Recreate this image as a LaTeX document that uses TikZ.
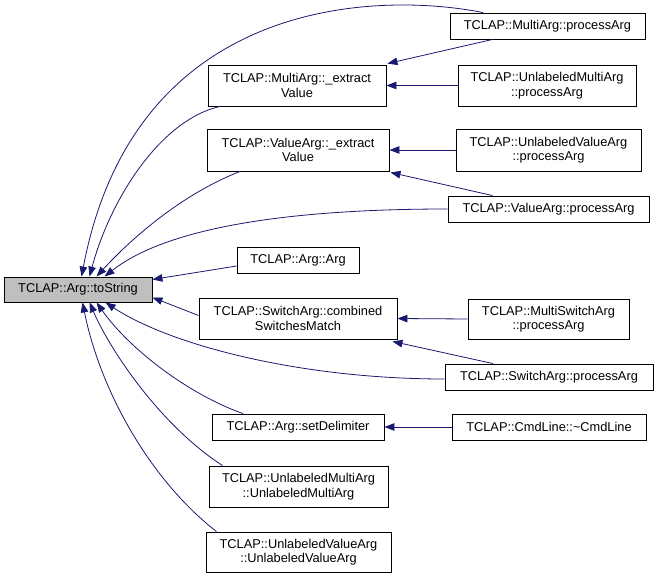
\documentclass[tikz,border=0pt]{standalone}
\usepackage{fontspec}
\setmainfont{Liberation Sans}
\usetikzlibrary{arrows.meta}
\definecolor{linkc}{HTML}{191970}
\definecolor{rootfill}{HTML}{BFBFBF}
\begin{document}
\begin{tikzpicture}[x=1pt,y=-1pt,
  box/.style={draw=black, line width=0.9pt, fill=white, inner sep=0pt, align=center,
    font=\fontsize{12.8}{14.6}\selectfont},
  link/.style={draw=linkc, line width=0.8pt, -{Triangle[length=10pt,width=7.5pt]}, fill=none},
]
\useasboundingbox (0,0) rectangle (657,578);
% nodes
\node[box, fill=rootfill, minimum width=148pt, minimum height=25pt] (root) at (78,289.5) {TCLAP::Arg::toString};
\node[box, minimum width=195pt, minimum height=26pt] (mpa) at (547.5,26) {TCLAP::MultiArg::processArg};
\node[box, minimum width=178pt, minimum height=41pt] (mev) at (297,85.5) {TCLAP::MultiArg::\_extract\\Value};
\node[box, minimum width=178pt, minimum height=41pt] (umpa) at (547,85.5) {TCLAP::UnlabeledMultiArg\\::processArg};
\node[box, minimum width=182pt, minimum height=42pt] (vev) at (298,150) {TCLAP::ValueArg::\_extract\\Value};
\node[box, minimum width=185pt, minimum height=42pt] (uvpa) at (548.5,150) {TCLAP::UnlabeledValueArg\\::processArg};
\node[box, minimum width=201pt, minimum height=26pt] (vpa) at (548.5,209) {TCLAP::ValueArg::processArg};
\node[box, minimum width=122pt, minimum height=26pt] (aa) at (298,260) {TCLAP::Arg::Arg};
\node[box, minimum width=198pt, minimum height=41pt] (csm) at (298,318.5) {TCLAP::SwitchArg::combined\\SwitchesMatch};
\node[box, minimum width=161pt, minimum height=40pt] (mspa) at (548.5,319) {TCLAP::MultiSwitchArg\\::processArg};
\node[box, minimum width=208pt, minimum height=26pt] (spa) at (549,377) {TCLAP::SwitchArg::processArg};
\node[box, minimum width=172pt, minimum height=26pt] (sd) at (298,427) {TCLAP::Arg::setDelimiter};
\node[box, minimum width=194pt, minimum height=26pt] (cl) at (549,427) {TCLAP::CmdLine::\textasciitilde CmdLine};
\node[box, minimum width=179pt, minimum height=41pt] (uma) at (298.5,486.5) {TCLAP::UnlabeledMultiArg\\::UnlabeledMultiArg};
\node[box, minimum width=185pt, minimum height=40pt] (uva) at (298.5,552) {TCLAP::UnlabeledValueArg\\::UnlabeledValueArg};
% edges into root (top)
\draw[link] ([xshift=-64.5pt]mpa.north) .. controls (380,-8) and (135,-5) .. ([xshift=78pt]root.north west);
\draw[link] ([xshift=-77pt]mev.south) .. controls (160,120) and (110,200) .. ([xshift=86pt]root.north west);
\draw[link] ([xshift=-58pt]vev.south) .. controls (180,195) and (130,240) .. ([xshift=93pt]root.north west);
\draw[link] (vpa.west) .. controls (300,209) and (170,225) .. ([xshift=101pt]root.north west);
% edges into root (side)
\draw[link] ([yshift=-6pt]aa.west) -- ([yshift=10pt]root.east);
\draw[link] ([yshift=3pt]csm.west) -- ([yshift=-8pt]root.east);
% edges into root (bottom)
\draw[link] ([yshift=-2pt]spa.west) .. controls (300,379) and (170,345) .. ([xshift=102pt]root.south west);
\draw[link] ([xshift=-55pt]sd.north) .. controls (190,395) and (130,350) .. ([xshift=93pt]root.south west);
\draw[link] ([xshift=-76pt]uma.north) .. controls (160,425) and (110,350) .. ([xshift=86pt]root.south west);
\draw[link] ([xshift=-82pt]uva.north) .. controls (150,480) and (100,390) .. ([xshift=79pt]root.south west);
% edges on the right
\draw[link] ([xshift=-55pt]mpa.south) -- ([xshift=1pt,yshift=1pt]mev.north east);
\draw[link] (umpa.west) -- (mev.east);
\draw[link] (uvpa.west) -- (vev.east);
\draw[link] ([xshift=-56pt]vpa.north) -- ([xshift=1pt,yshift=-1pt]vev.south east);
\draw[link] (mspa.west) -- (csm.east);
\draw[link] ([xshift=-56pt]spa.north) -- ([xshift=-5pt,yshift=-2pt]csm.south east);
\draw[link] (cl.west) -- (sd.east);
\end{tikzpicture}
\end{document}
